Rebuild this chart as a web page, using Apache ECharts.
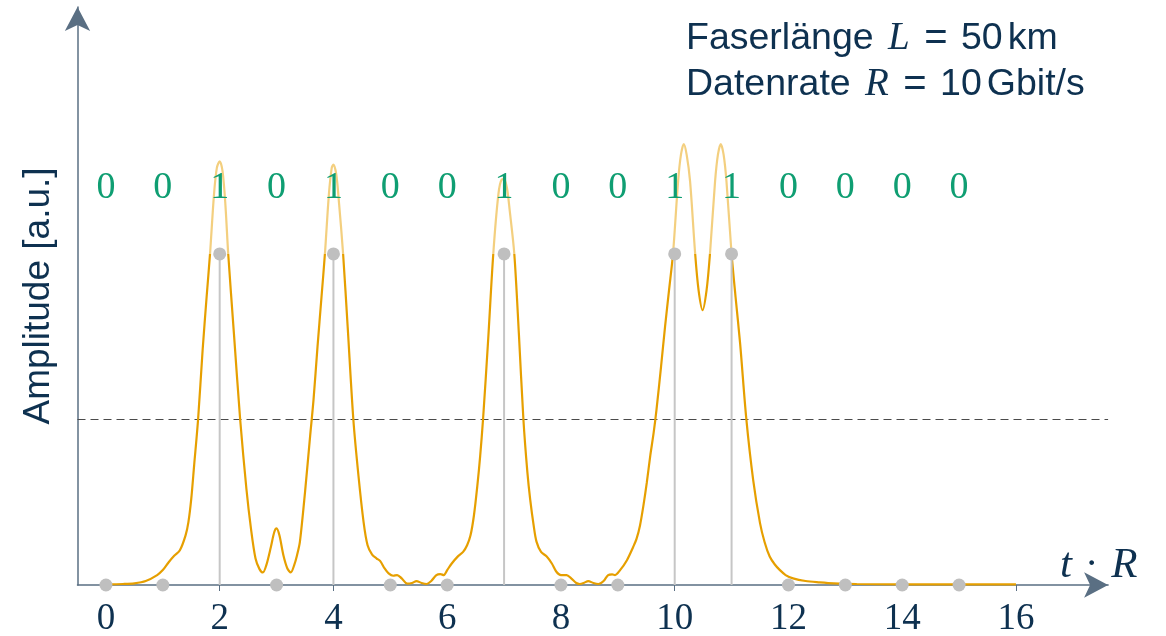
<!DOCTYPE html>
<html>
<head>
<meta charset="utf-8">
<script src="https://cdn.jsdelivr.net/npm/echarts@6/dist/echarts.min.js"></script>
<style>
  html, body { margin: 0; padding: 0; background: #fff; }
  #chart { width: 1166px; height: 636px; }
</style>
</head>
<body>
<div id="chart"></div>
<script>
// received pulse after the fibre, [t*R, amplitude]
const pulse = [
  [0, 0.002], [0.3, 0.003], [0.5, 0.005], [0.7, 0.012], [0.9, 0.03], [1.0, 0.045],
  [1.1, 0.068], [1.2, 0.088], [1.3, 0.105], [1.4, 0.15], [1.45, 0.19], [1.5, 0.26],
  [1.55, 0.36], [1.62, 0.5], [1.7, 0.71], [1.77, 0.87], [1.83, 1.0], [1.9, 1.18],
  [1.95, 1.26], [2.0, 1.28], [2.05, 1.25], [2.1, 1.15], [2.15, 1.0], [2.25, 0.76],
  [2.36, 0.5], [2.47, 0.29], [2.55, 0.17], [2.63, 0.08], [2.7, 0.048], [2.76, 0.038],
  [2.82, 0.06], [2.9, 0.115], [2.96, 0.16], [3.0, 0.171], [3.05, 0.15], [3.12, 0.09],
  [3.19, 0.05], [3.25, 0.038], [3.31, 0.06], [3.36, 0.09], [3.41, 0.13], [3.5, 0.28],
  [3.59, 0.45], [3.65, 0.56], [3.72, 0.72], [3.79, 0.87], [3.85, 1.0], [3.92, 1.18],
  [3.97, 1.26], [4.0, 1.27], [4.05, 1.24], [4.1, 1.15], [4.17, 1.0], [4.25, 0.78],
  [4.35, 0.5], [4.44, 0.33], [4.53, 0.19], [4.6, 0.12], [4.68, 0.092], [4.76, 0.08],
  [4.82, 0.073], [4.9, 0.05], [4.97, 0.035], [5.05, 0.028], [5.12, 0.03], [5.2, 0.02],
  [5.3, 0.004], [5.38, 0.006], [5.46, 0.012], [5.55, 0.006], [5.64, 0.003], [5.72, 0.012],
  [5.81, 0.03], [5.88, 0.033], [5.94, 0.03], [6.0, 0.045], [6.08, 0.065], [6.18, 0.085],
  [6.28, 0.1], [6.35, 0.12], [6.41, 0.15], [6.47, 0.21], [6.53, 0.3], [6.58, 0.39],
  [6.63, 0.5], [6.72, 0.74], [6.81, 1.0], [6.9, 1.18], [6.96, 1.225], [7.0, 1.226],
  [7.05, 1.2], [7.1, 1.13], [7.18, 1.0], [7.26, 0.76], [7.34, 0.5], [7.41, 0.34],
  [7.46, 0.257], [7.52, 0.18], [7.57, 0.131], [7.65, 0.1], [7.75, 0.086], [7.84, 0.065],
  [7.92, 0.04], [8.0, 0.03], [8.1, 0.03], [8.18, 0.02], [8.27, 0.006], [8.33, 0.003],
  [8.4, 0.006], [8.48, 0.012], [8.57, 0.006], [8.66, 0.003], [8.75, 0.012], [8.83, 0.03],
  [8.9, 0.032], [8.95, 0.03], [9.04, 0.045], [9.16, 0.075], [9.27, 0.115], [9.33, 0.14],
  [9.39, 0.18], [9.45, 0.24], [9.51, 0.31], [9.57, 0.39], [9.63, 0.46], [9.68, 0.53],
  [9.76, 0.66], [9.83, 0.78], [9.9, 0.89], [9.97, 1.0], [10.06, 1.22], [10.11, 1.3],
  [10.16, 1.332], [10.21, 1.3], [10.27, 1.22], [10.36, 1.0], [10.42, 0.89], [10.49, 0.83],
  [10.56, 0.89], [10.62, 1.0], [10.71, 1.22], [10.76, 1.3], [10.81, 1.332], [10.86, 1.3],
  [10.91, 1.22], [11.0, 1.0], [11.07, 0.87], [11.15, 0.73], [11.26, 0.5], [11.38, 0.317],
  [11.5, 0.187], [11.58, 0.13], [11.67, 0.086], [11.76, 0.062], [11.85, 0.045], [11.95, 0.03],
  [12.08, 0.02], [12.3, 0.012], [12.55, 0.008], [12.8, 0.005], [13.2, 0.003], [14, 0.002],
  [15, 0.002], [16, 0.002]
];

const bitSlots = [0, 1, 2, 3, 4, 5, 6, 7, 8, 9, 10, 11, 12, 13, 14, 15];
const bits = [0, 0, 1, 0, 1, 0, 0, 1, 0, 0, 1, 1, 0, 0, 0, 0];
const bitLabelLevel = 1.2;
const threshold = 0.5;
const clipLevel = 1; // curve is drawn pale above this amplitude
const xTicks = [0, 2, 4, 6, 8, 10, 12, 14, 16];
const xMin = -0.5, xMax = 17.62;
const yMax = 1.746;

const navy = '#0e3150';
const axisGrey = '#5a6f83';
const orange = '#e69f00';
const paleOrange = '#f3cf7f';
const serif = 'Liberation Serif';

const chart = echarts.init(document.getElementById('chart'));

chart.setOption({
  animation: false,
  backgroundColor: '#fff',
  title: {
    left: 686, top: 16, padding: 0,
    text: 'Faserlänge {m|L} {e|=} 50{s| }km\nDatenrate {m|R} {e|=} 10{s| }Gbit/s',
    textStyle: {
      fontFamily: 'Liberation Sans', fontWeight: 'normal', fontSize: 37.5,
      lineHeight: 46, color: navy,
      rich: {
        m: { fontFamily: serif, fontStyle: 'italic', fontSize: 39, color: navy, lineHeight: 46,
          padding: [0, 2, 0, 4] },
        e: { fontFamily: 'Liberation Sans', fontSize: 40, color: navy, lineHeight: 46,
          padding: [0, 3, 0, 2] },
        s: { fontSize: 18, lineHeight: 46 }
      }
    }
  },
  grid: { left: 77.5, right: 57.9, top: 7, bottom: 51, outerBoundsMode: 'none' },
  xAxis: {
    type: 'value', min: xMin, max: xMax,
    axisLine: { onZero: true, symbol: ['none', 'arrow'], symbolSize: [19, 24],
      lineStyle: { color: axisGrey, width: 1.5 } },
    axisTick: { show: true, customValues: xTicks, length: 6, lineStyle: { color: axisGrey } },
    axisLabel: { customValues: xTicks, margin: 16, fontFamily: serif, fontSize: 37, color: navy },
    splitLine: { show: false }
  },
  yAxis: {
    type: 'value', min: 0, max: yMax,
    name: 'Amplitude [a.u.]', nameLocation: 'middle', nameRotate: 90, nameGap: 20,
    nameTextStyle: { fontFamily: 'Liberation Sans', fontSize: 37, color: navy },
    axisLine: { show: true, onZero: false, symbol: ['none', 'arrow'], symbolSize: [19, 24],
      lineStyle: { color: axisGrey, width: 1.5 } },
    axisTick: { show: false },
    axisLabel: { show: false },
    splitLine: { show: false }
  },
  graphic: [{
    type: 'text', left: 1060, top: 544,
    style: {
      text: '{i|t}{d|·}{i|R}', fill: navy,
      font: '40px "Liberation Serif"',
      rich: {
        i: { fontFamily: serif, fontStyle: 'italic', fontSize: 43, fill: navy },
        d: { fontFamily: serif, fontSize: 40, fill: navy, padding: [0, 13, 0, 13] }
      }
    }
  }],
  series: [
    {
      type: 'line', data: pulse, showSymbol: false, smooth: 0.3, z: 2,
      lineStyle: { width: 2.2, color: orange }
    },
    {
      type: 'line', data: [[xMin, threshold], [xMax, threshold]], showSymbol: false,
      z: 1, lineStyle: { color: '#4a4a4a', width: 1.2, type: [8, 5] }
    },
    {
      // stems for the sent bits
      type: 'custom', z: 3, clip: false,
      data: bitSlots.map((x, i) => [x, bits[i]]),
      renderItem: (params, api) => {
        const p0 = api.coord([api.value(0), 0]);
        const p1 = api.coord([api.value(0), api.value(1)]);
        return {
          type: 'line',
          shape: { x1: p0[0], y1: p0[1], x2: p1[0], y2: p1[1] },
          style: { stroke: '#c6c6c6', lineWidth: 2 }
        };
      }
    },
    {
      type: 'scatter', data: bitSlots.map((x, i) => [x, bits[i]]), symbolSize: 13, z: 4,
      itemStyle: { color: '#bfbfbf', opacity: 1 }
    },
    {
      type: 'scatter', data: bitSlots.map((x, i) => [x, bitLabelLevel, bits[i]]),
      symbolSize: 1, z: 5, itemStyle: { color: 'rgba(0,0,0,0)', opacity: 1 },
      label: {
        show: true, position: 'inside', formatter: p => String(p.value[2]),
        fontFamily: serif, fontSize: 38, color: '#0f9e72', opacity: 1, textBorderWidth: 0
      }
    }
  ]
});

// pale above the clip level: hard-stop gradient placed with the y scale
const yClip = chart.convertToPixel({ yAxisIndex: 0 }, clipLevel);
const yTop = chart.convertToPixel({ yAxisIndex: 0 }, yMax);
const yBot = chart.convertToPixel({ yAxisIndex: 0 }, 0);
const f = (yClip - yTop) / (yBot - yTop);
chart.setOption({
  series: [{
    lineStyle: {
      color: {
        type: 'linear', global: true, x: 0, y: yTop, x2: 0, y2: yBot,
        colorStops: [
          { offset: 0, color: paleOrange }, { offset: f, color: paleOrange },
          { offset: f, color: orange }, { offset: 1, color: orange }
        ]
      }
    }
  }]
});
</script>
</body>
</html>
